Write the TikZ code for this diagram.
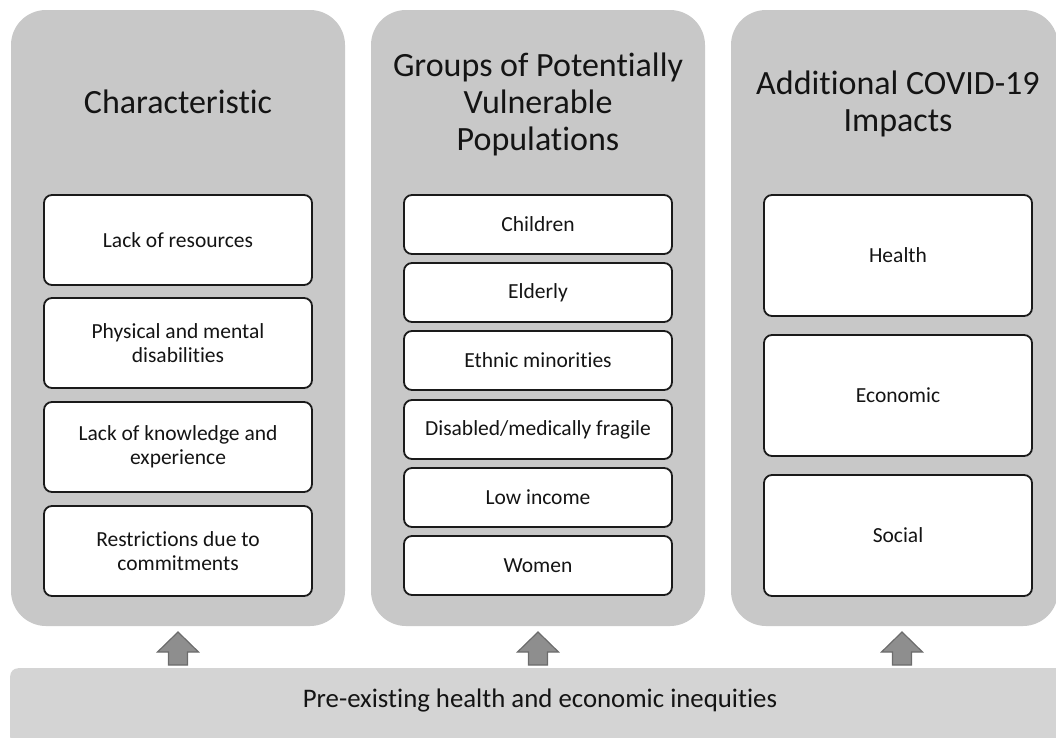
\documentclass[tikz,border=0pt]{standalone}
\usepackage{fontspec}
\setmainfont{Carlito}[Ligatures=NoCommon]
\definecolor{colgray}{HTML}{C8C8C8}
\definecolor{barfill}{HTML}{D4D4D4}
\definecolor{boxline}{HTML}{1A1A1A}
\definecolor{textcol}{HTML}{141414}
\definecolor{arrowfill}{HTML}{8E8E8E}
\definecolor{arrowline}{HTML}{6C6C6C}
\newcommand{\itemfont}{\fontsize{21.5}{24}\selectfont}
\newcommand{\titlefont}{\fontsize{34}{37}\selectfont}
\newcommand{\barfont}{\fontsize{26.8}{30}\selectfont}
\begin{document}
\begin{tikzpicture}[x=1pt,y=-1pt,
  col/.style={fill=colgray, rounded corners=35pt, minimum height=616pt, inner sep=0pt},
  item/.style={draw=boxline, line width=1.8pt, fill=white, rounded corners=8pt,
    minimum width=268pt, inner sep=0pt, align=center, font=\itemfont, text=textcol},
  coltitle/.style={align=center, font=\titlefont, text=textcol, inner sep=0pt},
  uparrow/.style={fill=arrowfill, draw=arrowline, line width=1.2pt, line join=miter}]
\useasboundingbox (0,0) rectangle (1056,737);
% columns
\node[col, minimum width=334pt] (c1) at (178,318) {};
\node[col, minimum width=334pt] (c2) at (538,318) {};
\node[col, minimum width=327pt] (c3) at (894.5,318) {};
% bottom bar
\node[fill=barfill, rounded corners=8pt, minimum width=1060pt, minimum height=77pt,
  inner sep=0pt, anchor=north west] (bar) at (10,668) {};
\node[font=\barfont, text=textcol, inner sep=0pt] (bartext) at (540,700)
  {Pre-existing health and economic inequities};
% titles
\node[coltitle] (t1) at (178,102) {Characteristic};
\node[coltitle] (t2) at (538,104) {Groups of Potentially\\Vulnerable\\Populations};
\node[coltitle] (t3) at (898,104) {Additional COVID-19\\Impacts};
% column 1 items
\node[item, minimum height=90pt] (a1) at (178,240) {Lack of resources};
\node[item, minimum height=90pt] (a2) at (178,343) {Physical and mental\\disabilities};
\node[item, minimum height=90pt] (a3) at (178,447) {Lack of knowledge and\\experience};
\node[item, minimum height=90pt] (a4) at (178,551) {Restrictions due to\\commitments};
% column 2 items
\node[item, minimum height=59pt] (b1) at (538,224.5) {Children};
\node[item, minimum height=59pt] (b2) at (538,292.5) {Elderly};
\node[item, minimum height=59pt] (b3) at (538,360.5) {Ethnic minorities};
\node[item, minimum height=59pt] (b4) at (538,429.5) {Disabled/medically fragile};
\node[item, minimum height=59pt] (b5) at (538,497.5) {Low income};
\node[item, minimum height=59pt] (b6) at (538,565.5) {Women};
% column 3 items
\node[item, minimum height=121pt] (d1) at (898,255.5) {Health};
\node[item, minimum height=121pt] (d2) at (898,395.5) {Economic};
\node[item, minimum height=121pt] (d3) at (898,535.5) {Social};
% block arrows from bar up to columns
\foreach \ax in {178,538,902}{
  \draw[uparrow, shift={(\ax,665)}] (-9.5,0) -- (-9.5,-13) -- (-20.5,-13) -- (0,-33)
    -- (20.5,-13) -- (9.5,-13) -- (9.5,0) -- cycle;
}
\end{tikzpicture}
\end{document}
